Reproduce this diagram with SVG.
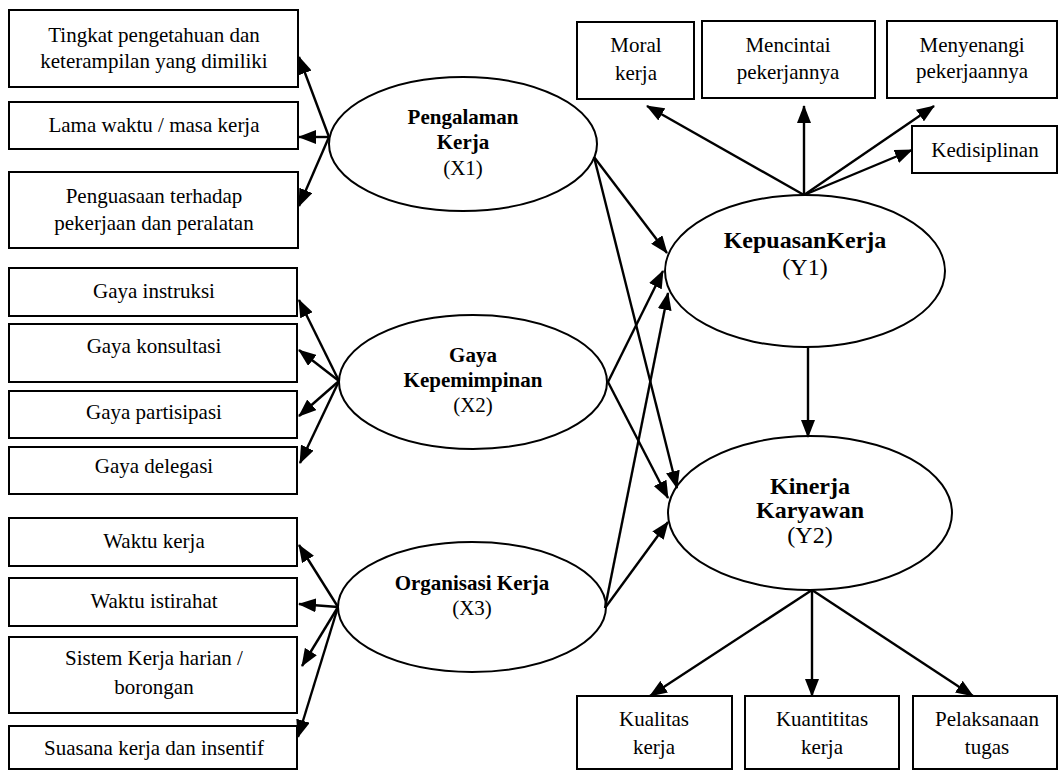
<svg xmlns="http://www.w3.org/2000/svg" width="1060" height="771" viewBox="0 0 1060 771">
<style>
.box{fill:#fff;stroke:#000;stroke-width:2}
.ell{fill:#fff;stroke:#000;stroke-width:2}
.t{font-family:"Liberation Serif","Times New Roman",serif;font-size:21px;fill:#000;text-anchor:middle}
.b{font-weight:bold}
.big{font-size:24px}
.c line{stroke:#000;stroke-width:2.4;marker-end:url(#ah)}
</style>
<defs>
<marker id="ah" markerUnits="userSpaceOnUse" markerWidth="18" markerHeight="14" viewBox="0 0 18 14" refX="17" refY="7" orient="auto">
<path d="M0,0 L18,7 L0,14 Z" fill="#000"/>
</marker>
</defs>
<rect width="1060" height="771" fill="#fff"/>

<g id="x1-ind1"><rect class="box" x="9" y="10" width="289" height="77"/><text class="t" x="154" y="42">Tingkat pengetahuan dan</text><text class="t" x="154" y="68">keterampilan yang dimiliki</text></g>
<g id="x1-ind2"><rect class="box" x="9" y="102" width="289" height="47"/><text class="t" x="154" y="132">Lama waktu / masa kerja</text></g>
<g id="x1-ind3"><rect class="box" x="9" y="172" width="289" height="76"/><text class="t" x="154" y="203">Penguasaan terhadap</text><text class="t" x="154" y="230">pekerjaan dan peralatan</text></g>

<g id="x2-ind1"><rect class="box" x="9" y="268" width="288" height="48"/><text class="t" x="154" y="298">Gaya instruksi</text></g>
<g id="x2-ind2"><rect class="box" x="9" y="324" width="288" height="58"/><text class="t" x="154" y="353">Gaya konsultasi</text></g>
<g id="x2-ind3"><rect class="box" x="9" y="391" width="288" height="47"/><text class="t" x="154" y="419">Gaya partisipasi</text></g>
<g id="x2-ind4"><rect class="box" x="9" y="447" width="288" height="47"/><text class="t" x="154" y="473">Gaya delegasi</text></g>

<g id="x3-ind1"><rect class="box" x="9" y="518" width="288" height="48"/><text class="t" x="154" y="548">Waktu kerja</text></g>
<g id="x3-ind2"><rect class="box" x="9" y="578" width="288" height="48"/><text class="t" x="154" y="608">Waktu istirahat</text></g>
<g id="x3-ind3"><rect class="box" x="9" y="637" width="288" height="76"/><text class="t" x="154" y="665">Sistem Kerja harian /</text><text class="t" x="154" y="694">borongan</text></g>
<g id="x3-ind4"><rect class="box" x="9" y="726" width="288" height="43"/><text class="t" x="154" y="755">Suasana kerja dan insentif</text></g>

<g id="y1-ind1"><rect class="box" x="577" y="22" width="117" height="77"/><text class="t" x="636" y="52">Moral</text><text class="t" x="636" y="80">kerja</text></g>
<g id="y1-ind2"><rect class="box" x="702" y="21" width="173" height="77"/><text class="t" x="788" y="52">Mencintai</text><text class="t" x="788" y="79">pekerjannya</text></g>
<g id="y1-ind3"><rect class="box" x="887" y="21" width="170" height="77"/><text class="t" x="972" y="52">Menyenangi</text><text class="t" x="972" y="78">pekerjaannya</text></g>
<g id="y1-ind4"><rect class="box" x="912" y="126" width="145" height="47"/><text class="t" x="985" y="157">Kedisiplinan</text></g>

<g id="y2-ind1"><rect class="box" x="577" y="696" width="155" height="73"/><text class="t" x="654" y="726">Kualitas</text><text class="t" x="654" y="754">kerja</text></g>
<g id="y2-ind2"><rect class="box" x="745" y="696" width="154" height="73"/><text class="t" x="822" y="726">Kuantititas</text><text class="t" x="822" y="754">kerja</text></g>
<g id="y2-ind3"><rect class="box" x="913" y="696" width="144" height="73"/><text class="t" x="987" y="726">Pelaksanaan</text><text class="t" x="987" y="754">tugas</text></g>

<g id="X1"><ellipse class="ell" cx="463" cy="144" rx="134" ry="67"/><text class="t b" x="463" y="124">Pengalaman</text><text class="t b" x="463" y="149">Kerja</text><text class="t" x="463" y="175">(X1)</text></g>
<g id="X2"><ellipse class="ell" cx="473" cy="382" rx="134" ry="67"/><text class="t b" x="473" y="362">Gaya</text><text class="t b" x="473" y="387">Kepemimpinan</text><text class="t" x="473" y="412">(X2)</text></g>
<g id="X3"><ellipse class="ell" cx="472" cy="607" rx="134" ry="65"/><text class="t b" x="472" y="590">Organisasi Kerja</text><text class="t" x="472" y="615">(X3)</text></g>
<g id="Y1"><ellipse class="ell" cx="805" cy="271" rx="140" ry="76"/><text class="t b big" x="805" y="248">KepuasanKerja</text><text class="t big" x="805" y="275">(Y1)</text></g>
<g id="Y2"><ellipse class="ell" cx="810" cy="513" rx="142" ry="77"/><text class="t b big" x="810" y="494">Kinerja</text><text class="t b big" x="810" y="518">Karyawan</text><text class="t big" x="810" y="543">(Y2)</text></g>

<g id="connectors" class="c">
<line x1="329" y1="137" x2="299" y2="57"/>
<line x1="329" y1="137" x2="299" y2="137"/>
<line x1="329" y1="137" x2="299" y2="206"/>
<line x1="339" y1="381" x2="299" y2="300"/>
<line x1="339" y1="381" x2="299" y2="350"/>
<line x1="339" y1="381" x2="299" y2="416"/>
<line x1="339" y1="381" x2="300" y2="463"/>
<line x1="338" y1="607" x2="299" y2="545"/>
<line x1="338" y1="607" x2="299" y2="604"/>
<line x1="338" y1="607" x2="302" y2="666"/>
<line x1="338" y1="607" x2="298" y2="737"/>
<line x1="804" y1="195" x2="647" y2="106"/>
<line x1="804" y1="195" x2="804" y2="106"/>
<line x1="804" y1="195" x2="934" y2="106"/>
<line x1="804" y1="195" x2="912" y2="150"/>
<line x1="812" y1="590" x2="650" y2="696"/>
<line x1="812" y1="590" x2="812" y2="696"/>
<line x1="812" y1="590" x2="973" y2="696"/>
<line x1="594" y1="157" x2="667" y2="253"/>
<line x1="594" y1="157" x2="677" y2="488"/>
<line x1="608" y1="382" x2="663" y2="271"/>
<line x1="608" y1="382" x2="668" y2="498"/>
<line x1="605" y1="608" x2="668" y2="293"/>
<line x1="605" y1="608" x2="668" y2="522"/>
<line x1="808" y1="347" x2="808" y2="437"/>
</g>
</svg>
